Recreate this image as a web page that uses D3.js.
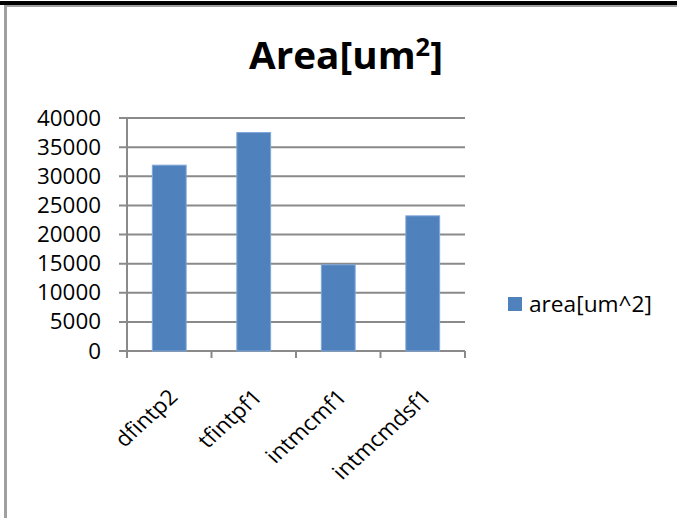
<!DOCTYPE html>
<html>
<head>
<meta charset="utf-8">
<script src="https://cdn.jsdelivr.net/npm/d3@7"></script>
<style>
  html, body { margin: 0; padding: 0; background: #fff; }
  svg { display: block; }
  text { font-family: "Open Sans", "Liberation Sans", sans-serif; fill: #000; }
</style>
</head>
<body>
<script>
// Chart data
const categories = ["dfintp2", "tfintpf1", "intmcmf1", "intmcmdsf1"];
const areaValues = [31900, 37500, 14800, 23200];
const seriesName = "area[um^2]";
const yTicks = [0, 5000, 10000, 15000, 20000, 25000, 30000, 35000, 40000];

const W = 677, H = 518;
const plot = { left: 127, right: 465, top: 118, bottom: 351 };
const barColor = "#4f81bd";
const gridColor = "#8a8a8a";
const stretch = 1.1; // horizontal widening applied to the rotated labels

const svg = d3.select("body").append("svg").attr("width", W).attr("height", H);

// Outer frame: dark top edge and grey left/top rule
svg.append("rect").attr("x", 0).attr("y", 1).attr("width", W).attr("height", 4).attr("fill", "#000");
svg.append("rect").attr("x", 4).attr("y", 5).attr("width", W - 4).attr("height", 2).attr("fill", "#a0a0a0");
svg.append("rect").attr("x", 4).attr("y", 5).attr("width", 3).attr("height", H - 5).attr("fill", "#a0a0a0");

// Stretch a text element horizontally to a given width around its anchor x
function fitWidth(sel, targetW, ax) {
  const bw = sel.node().getBBox().width;
  const s = targetW / bw;
  sel.attr("transform", `translate(${ax},0) scale(${s},1) translate(${-ax},0)`);
}

const x = d3.scaleBand().domain(categories).range([plot.left, plot.right]).paddingInner(0.6).paddingOuter(0.3);
const xOuter = d3.scaleBand().domain(categories).range([plot.left, plot.right]);
const y = d3.scaleLinear().domain([0, 40000]).range([plot.bottom, plot.top]);

// Horizontal gridlines
svg.append("g").selectAll("line").data(yTicks).join("line")
  .attr("x1", plot.left - 8).attr("x2", plot.right)
  .attr("y1", d => y(d)).attr("y2", d => y(d))
  .attr("stroke", gridColor).attr("stroke-width", 2);

// Y axis line
svg.append("line").attr("x1", plot.left).attr("x2", plot.left)
  .attr("y1", plot.top).attr("y2", plot.bottom + 1)
  .attr("stroke", gridColor).attr("stroke-width", 2);

// X axis tick marks at category boundaries
const bounds = categories.map(c => xOuter(c)).concat([plot.right]);
svg.append("g").selectAll("line").data(bounds).join("line")
  .attr("x1", d => d).attr("x2", d => d)
  .attr("y1", plot.bottom).attr("y2", plot.bottom + 7)
  .attr("stroke", gridColor).attr("stroke-width", 2);

// Bars
svg.append("g").selectAll("rect").data(categories).join("rect")
  .attr("x", c => x(c))
  .attr("width", x.bandwidth())
  .attr("y", (c, i) => y(areaValues[i]))
  .attr("height", (c, i) => plot.bottom - y(areaValues[i]))
  .attr("fill", barColor)
  .attr("stroke", "#7ea6d8").attr("stroke-width", 1);

// Y tick labels
svg.append("g").selectAll("text").data(yTicks).join("text")
  .attr("x", 101).attr("y", d => y(d)).attr("dy", "0.36em")
  .attr("text-anchor", "end").attr("font-size", 21)
  .text(d => d)
  .each(function () { const t = d3.select(this); fitWidth(t, t.text().length * 12.8, 101); });

// Rotated category labels
svg.append("g").selectAll("text").data(categories).join("text")
  .attr("text-anchor", "end").attr("font-size", 21)
  .attr("transform", c => `translate(${xOuter(c) + xOuter.bandwidth() / 2 + 4},${plot.bottom + 42}) scale(${stretch},1) rotate(-45)`)
  .attr("dy", "0.36em")
  .text(c => c);

// Title
const title = svg.append("text").attr("x", 346).attr("y", 69)
  .attr("text-anchor", "middle").attr("font-size", 38).attr("font-weight", "bold");
title.append("tspan").text("Area[um");
title.append("tspan").attr("font-size", 25).attr("dy", -13).text("2");
title.append("tspan").attr("dy", 13).text("]");
fitWidth(title, 194, 346);

// Legend
svg.append("rect").attr("x", 508).attr("y", 297).attr("width", 14).attr("height", 14).attr("fill", barColor);
const legText = svg.append("text").attr("x", 529).attr("y", 304).attr("dy", "0.36em")
  .attr("font-size", 21).text(seriesName);
fitWidth(legText, 123, 529);
</script>
</body>
</html>
